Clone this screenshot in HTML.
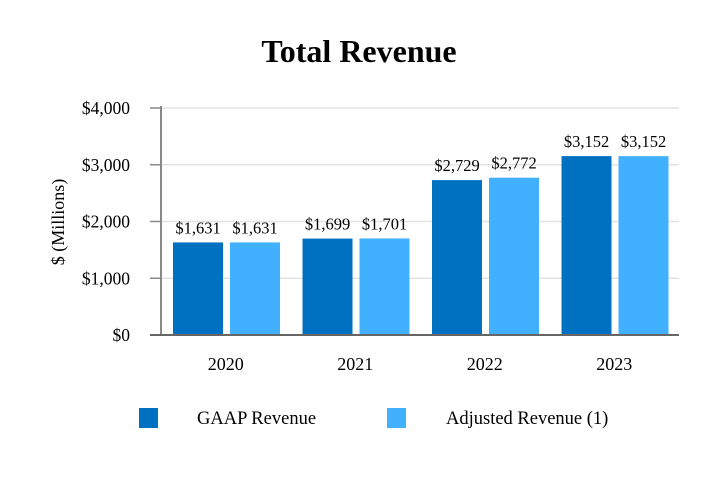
<!DOCTYPE html>
<html><head><meta charset="utf-8"><style>
body{margin:0;background:#fff;}
svg{display:block;font-family:"Liberation Serif",serif;}
</style></head><body>
<svg id="chart" width="718" height="480">
<text x="359" y="62" text-anchor="middle" font-size="32" font-weight="bold">Total Revenue</text>
<text transform="translate(64,222) rotate(-90)" text-anchor="middle" font-size="18">$ (Millions)</text>
<g id="grid"></g><g id="bars"></g><g id="axes"></g>
<g>
<rect x="139" y="408" width="19" height="20" fill="#0070C0"/>
<text x="197" y="424" font-size="18.5">GAAP Revenue</text>
<rect x="387" y="408" width="19" height="20" fill="#41B0FF"/>
<text x="446" y="424" font-size="18.5">Adjusted Revenue (1)</text>
</g>
</svg>
<script>
const categories=["2020","2021","2022","2023"];
const gaap=[1631,1699,2729,3152];
const adjusted=[1631,1701,2772,3152];
const yTicks=[0,1000,2000,3000,4000];
const yTickLabels=["$0","$1,000","$2,000","$3,000","$4,000"];
const NS="http://www.w3.org/2000/svg";
const x0=161,x1=679,yB=335,yT=108,yMax=4000;
const y=v=>yB-(v/yMax)*(yB-yT);
const gw=(x1-x0)/categories.length;
function mk(t,a,p){const e=document.createElementNS(NS,t);for(const k in a)e.setAttribute(k,a[k]);p.appendChild(e);return e;}
const grid=document.getElementById('grid'),bars=document.getElementById('bars'),axes=document.getElementById('axes');
yTicks.forEach((v,i)=>{
 if(v>0){const l=mk('line',{x1:x0,x2:x1,y1:y(v),y2:y(v),stroke:'#e3e3e3','stroke-width':1.5},grid);
 
 }
 const tk=mk('line',{x1:150,x2:x0,y1:y(v),y2:y(v),stroke:'#888','stroke-width':1.5},axes);
 
 
 const t=mk('text',{x:130,y:y(v)+6,'text-anchor':'end','font-size':17.5},axes);t.textContent=yTickLabels[i];
 
 
});
const fmt=v=>'$'+v.toLocaleString('en-US');
categories.forEach((c,i)=>{
 const gx=x0+gw*i;
 [[gaap[i],'#0070C0',12,'bar-gaap-'+c],[adjusted[i],'#41B0FF',69,'bar-adjusted-'+c]].forEach(([v,col,off,nm])=>{
  const r=mk('rect',{x:gx+off,y:y(v),width:50,height:yB-y(v),fill:col},bars);
  
  
  const t=mk('text',{x:gx+off+25,y:y(v)-9,'text-anchor':'middle','font-size':16.5},bars);t.textContent=fmt(v);
  
  
 });
 const xl=mk('text',{x:gx+gw/2,y:370,'text-anchor':'middle','font-size':18},axes);xl.textContent=c;
 
 
});
const ya=mk('line',{x1:x0,x2:x0,y1:yT-2,y2:yB,stroke:'#888','stroke-width':2},axes);


const xa=mk('line',{x1:150,x2:x1,y1:yB,y2:yB,stroke:'#666','stroke-width':2},axes);


</script>
</body></html>
